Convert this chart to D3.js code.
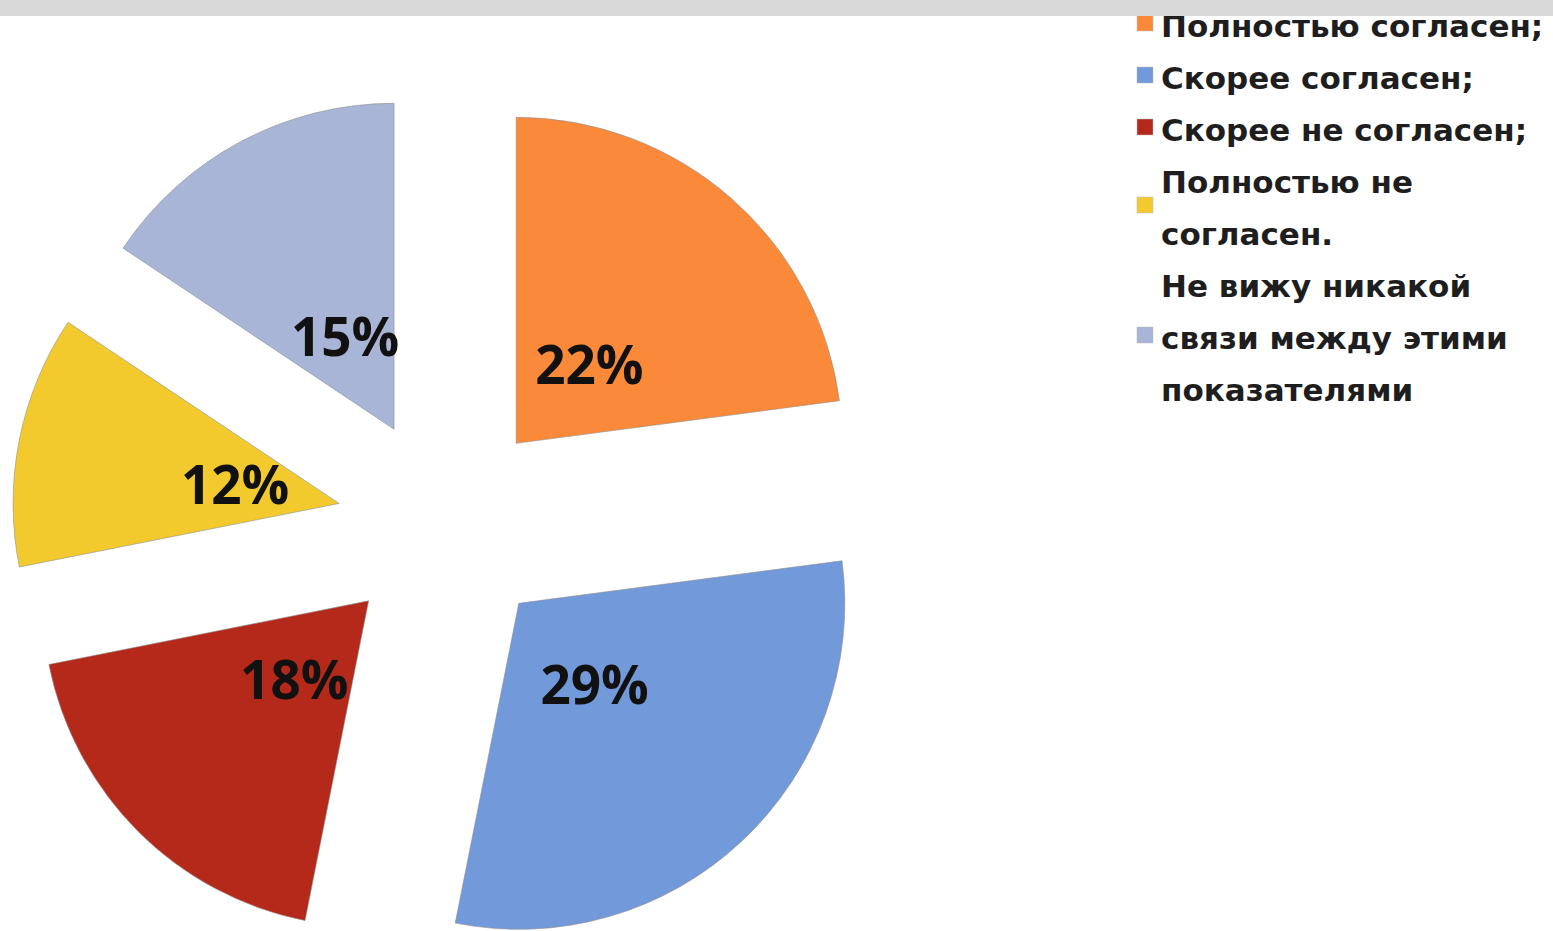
<!DOCTYPE html>
<html>
<head>
<meta charset="utf-8">
<script src="https://cdn.jsdelivr.net/npm/d3@7"></script>
<style>
  body { margin: 0; background: #fff; }
  svg { display: block; }
</style>
</head>
<body>
<svg id="main-svg" width="1553" height="931"></svg>
<script>
var categories = ["Полностью согласен;", "Скорее согласен;", "Скорее не согласен;",
                  "Полностью не согласен.", "Не вижу никакой связи между этими показателями"];
var values = [22, 29, 18, 12, 15];
var colors = ["#FA8A3A", "#7299D9", "#B5291A", "#F3CA2E", "#A9B5D6"];

var svg = d3.select("#main-svg");
var W = 1553, H = 931;

var radius = 326;
var explode = 108;
var cx = 445, cy = 524.5;

var pie = d3.pie().sort(null).value(function(d) { return d; });
var arcs = pie(values);
var arc = d3.arc().innerRadius(0).outerRadius(radius);
// zero-width ring, used only for direction of each slice's bisector
var mid = d3.arc().innerRadius(explode).outerRadius(explode);

var g = svg.append("g").attr("transform", "translate(" + cx + "," + cy + ")");

var slice = g.selectAll("g.slice")
    .data(arcs)
    .enter().append("g")
    .attr("class", "slice")
    .attr("transform", function(d) {
      var c = mid.centroid(d);
      return "translate(" + c[0] + "," + c[1] + ")";
    });

slice.append("path")
    .attr("d", arc)
    .style("fill", function(d, i) { return colors[i]; })
    .style("stroke", "#8f8f8f")
    .style("stroke-opacity", 0.6)
    .style("stroke-width", "1px");

slice.append("text")
    .attr("transform", function(d) {
      var c = mid.centroid(d);
      return "translate(" + (c[0] + 2) + "," + (c[1] + 3) + ")";
    })
    .attr("text-anchor", "middle")
    .attr("dy", "0.36em")
    .style("font-family", "'Open Sans', sans-serif")
    .style("font-weight", "700")
    .style("font-size", "53px")
    .style("fill", "#111")
    .text(function(d) { return d.data + "%"; });

// legend
var legX = 1161, lineH = 52, maxW = 392;
var legend = svg.append("g").attr("class", "legend");
var baseline = 37;
categories.forEach(function(name, i) {
  var t = legend.append("text")
      .attr("x", legX)
      .style("font-family", "'DejaVu Sans', sans-serif")
      .style("font-weight", "700")
      .style("font-size", "31px")
      .style("fill", "#1e1e1e");
  var words = name.split(" "), line = [], lines = [];
  var tmp = t.append("tspan");
  words.forEach(function(w) {
    var test = line.concat([w]).join(" ");
    tmp.text(test);
    if (tmp.node().getComputedTextLength() > maxW && line.length) {
      lines.push(line.join(" "));
      line = [w];
    } else {
      line.push(w);
    }
  });
  lines.push(line.join(" "));
  tmp.remove();
  lines.forEach(function(l, k) {
    t.append("tspan").attr("x", legX).attr("y", baseline + k * lineH).text(l);
  });
  var yc = baseline + (lines.length - 1) * lineH / 2 - 14;
  legend.append("rect")
      .attr("x", 1137).attr("y", yc - 8)
      .attr("width", 16).attr("height", 16)
      .style("fill", colors[i])
      .style("stroke", "#bbb")
      .style("stroke-width", "0.5px");
  baseline += lines.length * lineH;
});

// grey band along the top edge
svg.append("rect")
    .attr("x", 0).attr("y", 0)
    .attr("width", W).attr("height", 16)
    .style("fill", "#D9D9D9");
</script>
</body>
</html>
